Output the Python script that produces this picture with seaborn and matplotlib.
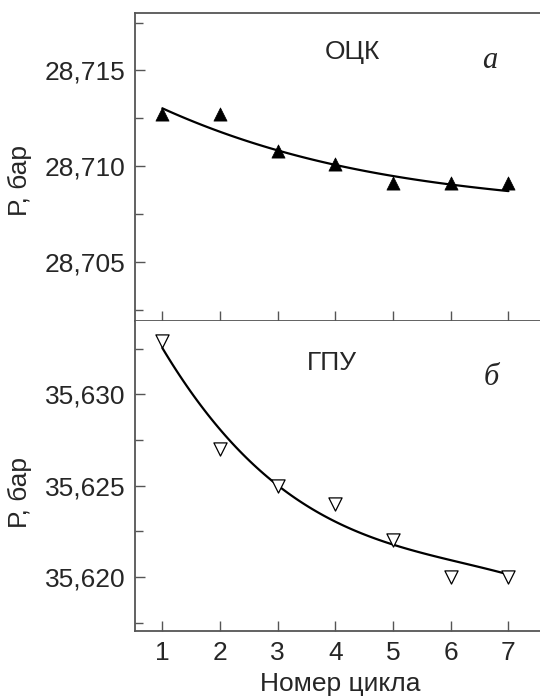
import matplotlib
matplotlib.use("Agg")
import matplotlib.pyplot as plt
import seaborn as sns
import pandas as pd
from matplotlib.ticker import FixedLocator, FuncFormatter

# Data
cycles = [1, 2, 3, 4, 5, 6, 7]

# ОЦК (panel а)
p_bcc = [28.7127, 28.7127, 28.7108, 28.7101, 28.7091, 28.7091, 28.7091]
p_bcc_fit = [28.7130, 28.71184, 28.7108, 28.71002, 28.7095, 28.70905, 28.70868]

# ГПУ (panel б)
p_hcp = [35.6329, 35.6270, 35.6250, 35.6240, 35.6220, 35.6200, 35.6200]
p_hcp_fit = [35.63261, 35.6279, 35.6251, 35.62311, 35.62178, 35.6208, 35.62019]

top_major = [28.705, 28.710, 28.715]
top_minor = [28.7025, 28.7075, 28.7125, 28.7175]
bot_major = [35.620, 35.625, 35.630]
bot_minor = [35.6175, 35.6225, 35.6275, 35.6325]

df_top = pd.DataFrame({'cycle': cycles, 'p': p_bcc, 'fit': p_bcc_fit})
df_bot = pd.DataFrame({'cycle': cycles, 'p': p_hcp, 'fit': p_hcp_fit})

sns.set_style("white")
plt.rcParams['font.family'] = ['Liberation Sans', 'DejaVu Sans']

fig = plt.figure(figsize=(5.4, 6.96), dpi=100)
ax1 = fig.add_axes([0.25, 0.5388, 0.76, 0.4425])
ax2 = fig.add_axes([0.25, 0.0934, 0.76, 0.4454])

comma = FuncFormatter(lambda v, pos: f"{v:.3f}".replace('.', ','))
spine_col = '#555555'

# Top panel
sns.regplot(data=df_top, x='cycle', y='fit', order=3, scatter=False, ci=None,
            color='black', line_kws={'lw': 1.6}, ax=ax1)
sns.scatterplot(data=df_top, x='cycle', y='p', marker='^', s=90, color='black',
                edgecolor='black', linewidth=0.5, ax=ax1, zorder=3)
ax1.set_ylim(28.7019, 28.7180)
ax1.yaxis.set_major_locator(FixedLocator(top_major))
ax1.yaxis.set_minor_locator(FixedLocator(top_minor))
ax1.yaxis.set_major_formatter(comma)
ax1.tick_params(axis='x', labelbottom=False)
ax1.text(4.30, 28.71594, 'ОЦК', fontsize=19, ha='center', va='center')
ax1.text(6.68, 28.7155, 'а', fontsize=22, ha='center', va='center',
         family=['Liberation Serif'], style='italic')

# Bottom panel
sns.regplot(data=df_bot, x='cycle', y='fit', order=3, scatter=False, ci=None,
            color='black', line_kws={'lw': 1.6}, ax=ax2)
sns.scatterplot(data=df_bot, x='cycle', y='p', marker='v', s=90, color='white',
                edgecolor='black', linewidth=0.9, ax=ax2, zorder=3)
ax2.set_ylim(35.61704, 35.63402)
ax2.yaxis.set_major_locator(FixedLocator(bot_major))
ax2.yaxis.set_minor_locator(FixedLocator(bot_minor))
ax2.yaxis.set_major_formatter(comma)
ax2.text(3.94, 35.6317, 'ГПУ', fontsize=19, ha='center', va='center')
ax2.text(6.71, 35.6309, 'б', fontsize=22, ha='center', va='center',
         family=['Liberation Serif'], style='italic')
ax2.set_xlabel('Номер цикла', fontsize=19, labelpad=5)

for ax in (ax1, ax2):
    ax.set_xlim(0.526, 7.64)
    ax.set_xticks(cycles)
    ax.set_ylabel('Р, бар', fontsize=19)
    ax.tick_params(which='both', direction='in', left=True, bottom=True,
                   length=7, width=1, color=spine_col, labelsize=19, pad=7)
    ax.tick_params(which='minor', length=6)
    ax.spines['right'].set_visible(False)
    for s in ('left', 'bottom', 'top'):
        ax.spines[s].set_color(spine_col)
        ax.spines[s].set_linewidth(1.3)

ax2.spines['top'].set_visible(False)
ax1.yaxis.set_label_coords(-0.25, 0.455)
ax2.yaxis.set_label_coords(-0.25, 0.448)

fig.savefig('out.png', dpi=100)
